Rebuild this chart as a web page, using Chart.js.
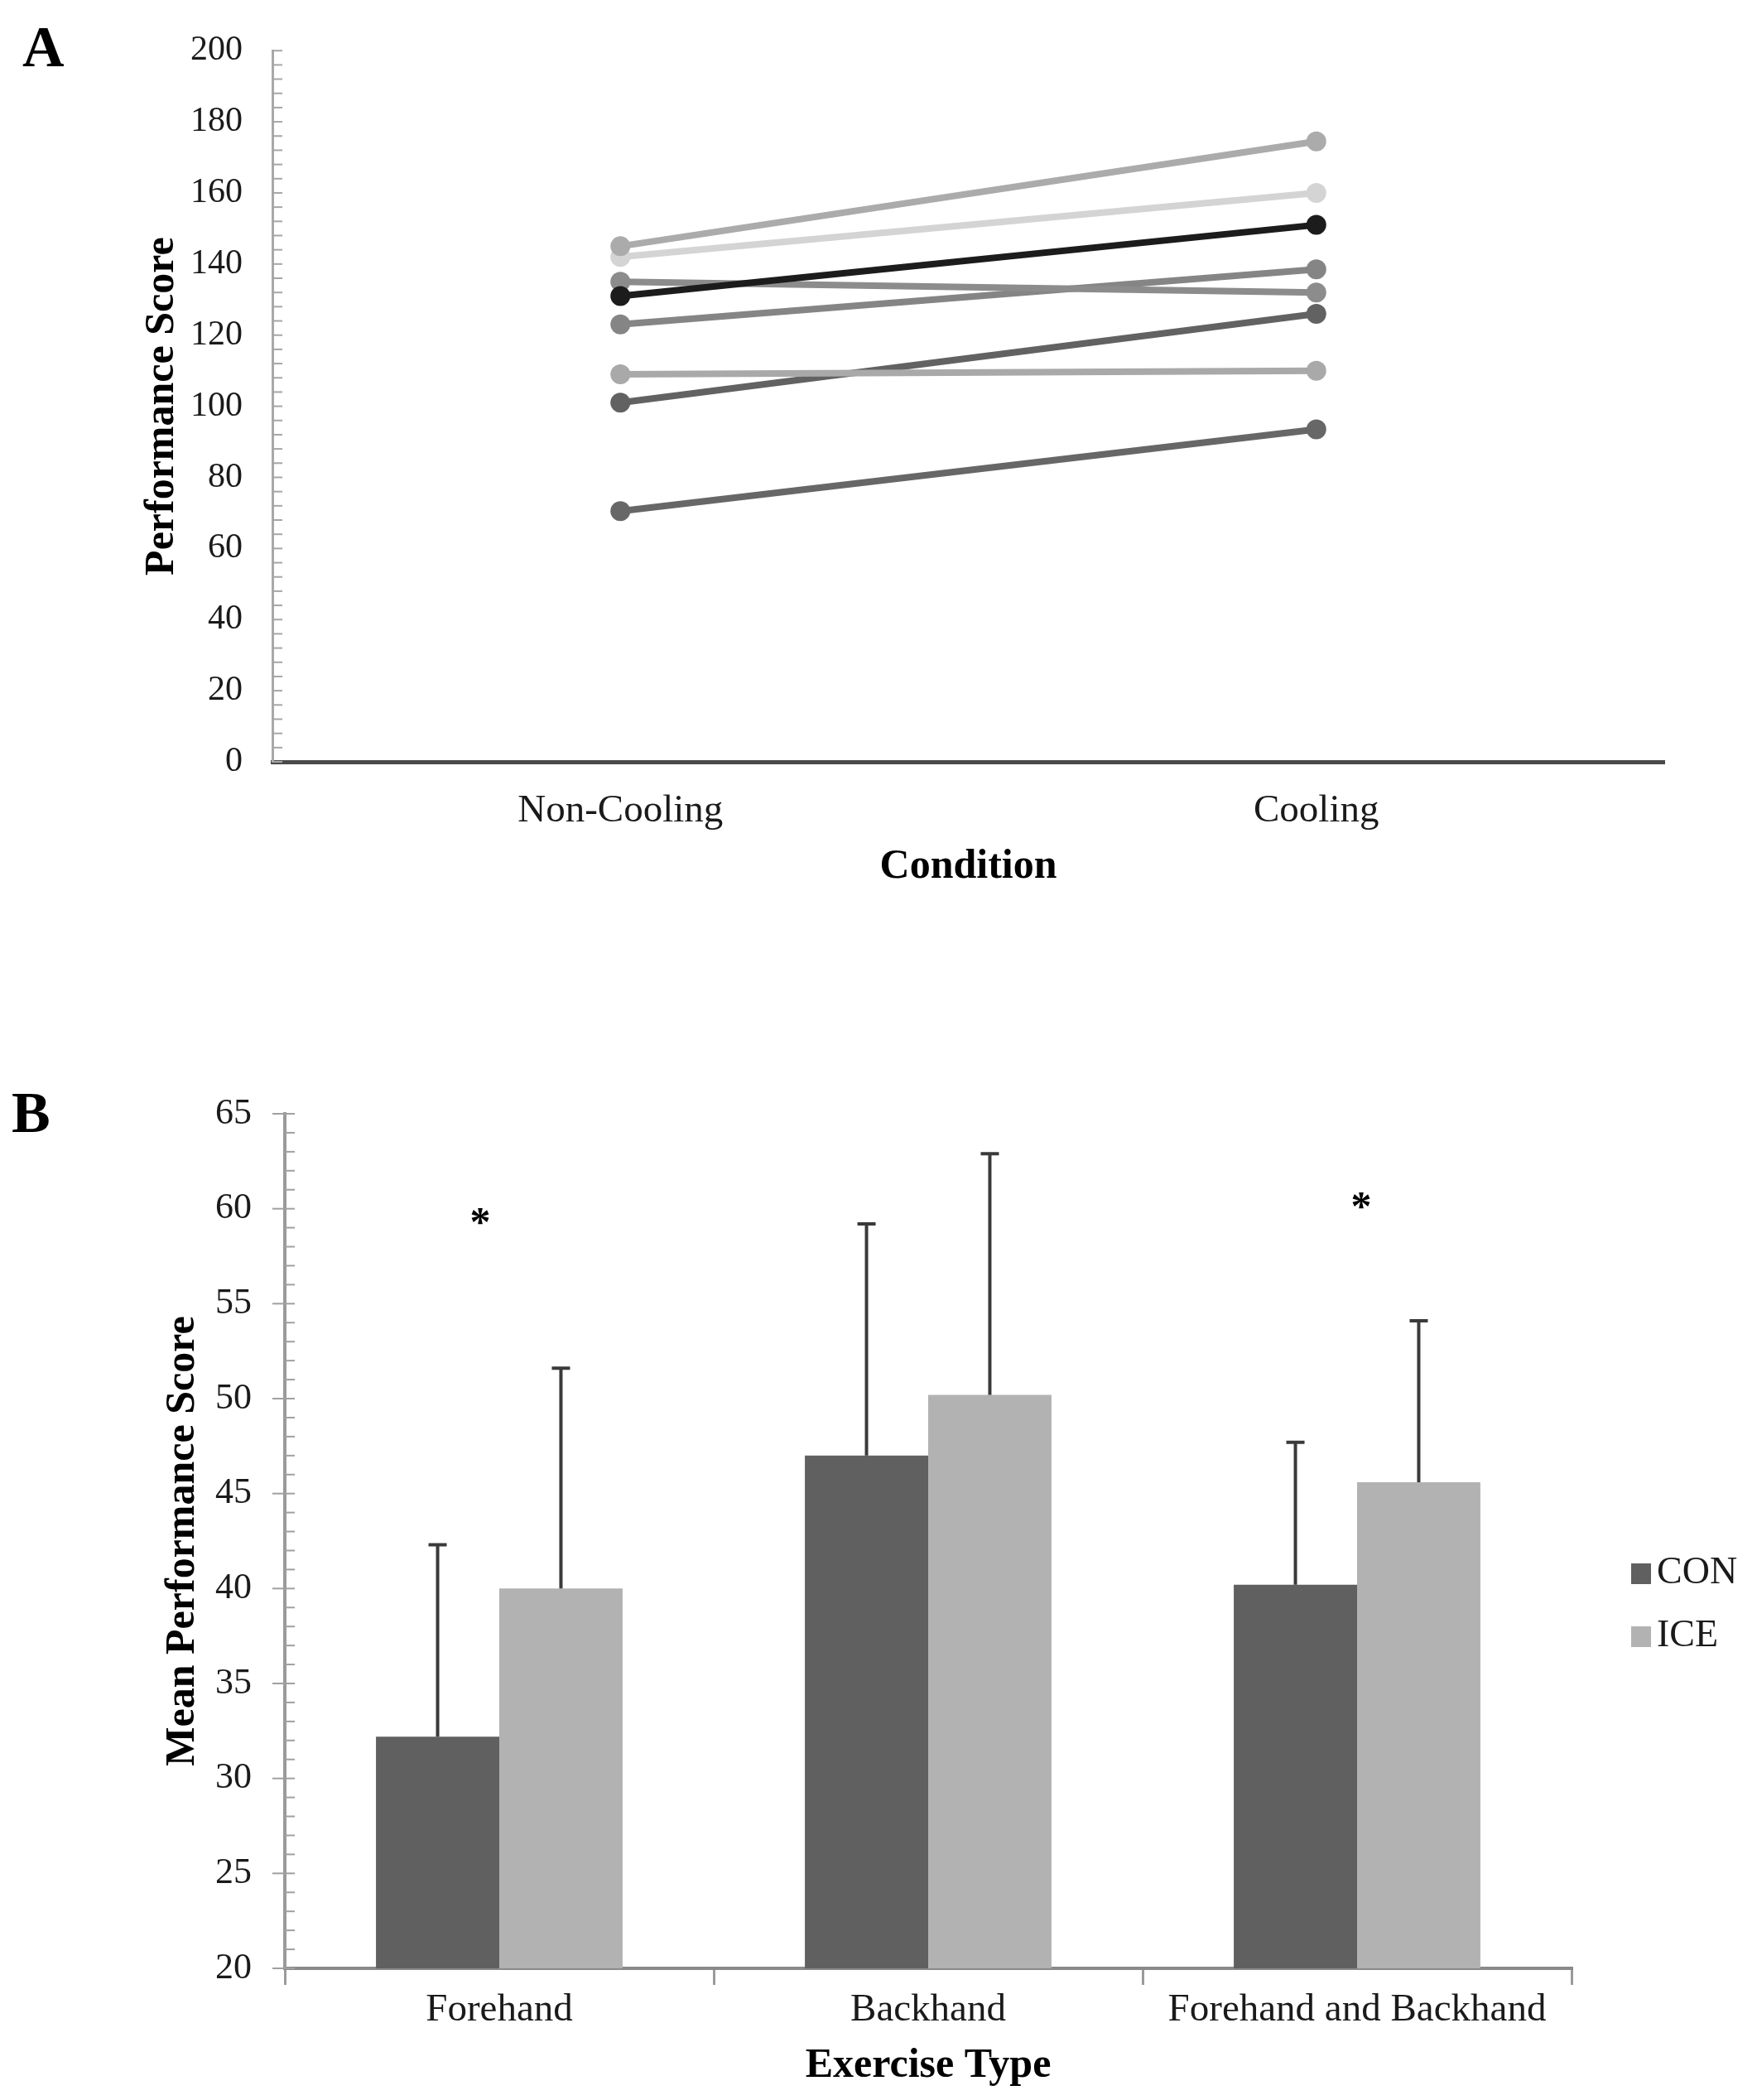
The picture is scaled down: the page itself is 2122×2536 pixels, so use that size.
<!DOCTYPE html>
<html>
<head>
<meta charset="utf-8">
<script src="https://cdn.jsdelivr.net/npm/chart.js@4.4.1/dist/chart.umd.min.js"></script>
<style>
  html, body { margin: 0; padding: 0; background: #fff; }
  body { width: 2122px; height: 2536px; position: relative; overflow: hidden; }
  .panel { position: absolute; left: 0; }
  .tag { position: absolute; font: bold 70px 'Liberation Serif', serif; line-height: 70px; color: #000; }
</style>
</head>
<body>
<div class="tag" style="left:27px; top:22px;">A</div>
<div class="tag" style="left:14px; top:1309px;">B</div>
<canvas id="chartA" class="panel" width="2122" height="1120" style="top:0;"></canvas>
<canvas id="chartB" class="panel" width="2122" height="1306" style="top:1230px;"></canvas>
<script>
// ---- Panel A: individual performance scores ----
const conditions = ['Non-Cooling', 'Cooling'];
const player1 = [145, 174.5];
const player2 = [142, 160];
const player3 = [131, 151];
const player4 = [135, 132];
const player5 = [123, 138.5];
const player6 = [109, 110];
const player7 = [101, 126];
const player8 = [70.5, 93.5];
const yTicksA = [0, 20, 40, 60, 80, 100, 120, 140, 160, 180, 200];

// ---- Panel B: mean performance score ----
const exerciseTypes = ['Forehand', 'Backhand', 'Forehand and Backhand'];
const conMeans = [32.2, 47.0, 40.2];
const iceMeans = [40.0, 50.2, 45.6];
const conSD = [10.1, 12.2, 7.5];
const iceSD = [11.6, 12.7, 8.5];
const sigTypes = ['Forehand', 'Forehand and Backhand'];
const sigHeights = [59.6, 60.4];
const yTicksB = [20, 25, 30, 35, 40, 45, 50, 55, 60, 65];

const serif = "'Liberation Serif', 'Times New Roman', serif";

// small tick marks along the value axis
const axisMarks = {
  id: 'axisMarks',
  afterDraw(chart, args, opts) {
    const y = chart.scales.y, ctx = chart.ctx;
    const x0 = chart.chartArea.left;
    ctx.save();
    ctx.strokeStyle = opts.color;
    ctx.lineWidth = 2;
    for (let v = y.min; v <= y.max + 1e-6; v += opts.minorStep) {
      const py = y.getPixelForValue(v);
      const r = v / opts.majorStep;
      const major = Math.abs(r - Math.round(r)) < 1e-6;
      ctx.beginPath();
      ctx.moveTo(x0 - (major ? opts.outer : 0), py);
      ctx.lineTo(x0 + opts.inner, py);
      ctx.stroke();
    }
    ctx.restore();
  }
};

const lineColors = ['#ababab', '#d4d4d4', '#1c1c1c', '#8c8c8c', '#858585', '#a9a9a9', '#626262', '#676767'];
const players = [player3, player1, player2, player4, player5, player6, player7, player8];
const playerColors = [lineColors[2], lineColors[0], lineColors[1], lineColors[3], lineColors[4], lineColors[5], lineColors[6], lineColors[7]];

new Chart(document.getElementById('chartA'), {
  type: 'line',
  data: {
    labels: conditions,
    datasets: players.map((p, i) => ({
      label: 'Player ' + (i + 1),
      data: p,
      borderColor: playerColors[i],
      backgroundColor: playerColors[i],
      borderWidth: 8,
      pointRadius: 12,
      pointBorderWidth: 0,
      pointBackgroundColor: playerColors[i],
      tension: 0
    }))
  },
  options: {
    responsive: false,
    animation: false,
    devicePixelRatio: 1,
    layout: { padding: { left: 0, top: 57, right: 2122 - 2010, bottom: 0 } },
    plugins: {
      legend: { display: false },
      tooltip: { enabled: false },
      axisMarks: { minorStep: 4, majorStep: 20, inner: 12, outer: 0, color: '#a6a6a6' }
    },
    scales: {
      x: {
        offset: true,
        grid: { display: false, drawTicks: false },
        border: { color: '#4a4a4a', width: 5 },
        ticks: { font: { family: serif, size: 47 }, color: '#1a1a1a', padding: 31 },
        title: { display: true, text: 'Condition', font: { family: serif, size: 50, weight: 'bold' }, color: '#000', padding: { top: 0, bottom: 43 } },
        afterFit: s => { s.height = 1120 - 920; }
      },
      y: {
        min: 0, max: 200,
        afterBuildTicks: s => { s.ticks = yTicksA.map(v => ({ value: v })); },
        grid: { display: false, drawTicks: false },
        border: { color: '#a8a8a8', width: 3 },
        ticks: { font: { family: serif, size: 42 }, color: '#1a1a1a', padding: 36 },
        title: { display: true, text: 'Performance Score', font: { family: serif, size: 50, weight: 'bold' }, color: '#000', padding: { top: 166, bottom: 0 } },
        afterFit: s => { s.width = 329; }
      }
    }
  },
  plugins: [axisMarks]
});

// upward standard deviation bars
const errorBars = {
  id: 'errorBars',
  afterDatasetsDraw(chart) {
    const ctx = chart.ctx, ys = chart.scales.y;
    ctx.save();
    ctx.strokeStyle = '#3a3a3a';
    ctx.lineWidth = 4;
    chart.data.datasets.forEach((ds, i) => {
      chart.getDatasetMeta(i).data.forEach((bar, j) => {
        const top = ys.getPixelForValue(ds.data[j] + ds.sd[j]);
        ctx.beginPath();
        ctx.moveTo(bar.x, bar.y);
        ctx.lineTo(bar.x, top);
        ctx.moveTo(bar.x - 11, top);
        ctx.lineTo(bar.x + 11, top);
        ctx.stroke();
      });
    });
    ctx.restore();
  }
};

// significance asterisks and legend
const annotations = {
  id: 'annotations',
  afterDraw(chart) {
    const ctx = chart.ctx, xs = chart.scales.x, ys = chart.scales.y;
    const shift = [-23, 5];
    ctx.save();
    ctx.fillStyle = '#000';
    ctx.font = 'bold 50px ' + serif;
    ctx.textAlign = 'center';
    ctx.textBaseline = 'alphabetic';
    sigTypes.forEach((t, i) => {
      const m = ctx.measureText('*');
      const cx = xs.getPixelForValue(exerciseTypes.indexOf(t)) + shift[i];
      const cy = ys.getPixelForValue(sigHeights[i]);
      ctx.fillText('*', cx, cy + (m.actualBoundingBoxAscent - m.actualBoundingBoxDescent) / 2);
    });
    // legend
    ctx.font = '46px ' + serif;
    ctx.textAlign = 'left';
    ctx.textBaseline = 'middle';
    chart.data.datasets.forEach((ds, i) => {
      const cy = 1900 - 1230 + i * 76;
      ctx.fillStyle = ds.backgroundColor;
      ctx.fillRect(1970, cy - 12, 24, 25);
      ctx.fillStyle = '#1a1a1a';
      ctx.fillText(ds.label, 2001, cy);
    });
    ctx.restore();
  }
};

new Chart(document.getElementById('chartB'), {
  type: 'bar',
  data: {
    labels: exerciseTypes,
    datasets: [
      { label: 'CON', data: conMeans, sd: conSD, backgroundColor: '#606060', borderWidth: 0 },
      { label: 'ICE', data: iceMeans, sd: iceSD, backgroundColor: '#b2b2b2', borderWidth: 0 }
    ]
  },
  options: {
    responsive: false,
    animation: false,
    devicePixelRatio: 1,
    categoryPercentage: 0.575,
    barPercentage: 1,
    layout: { padding: { left: 0, top: 1345 - 1230, right: 2122 - 1898, bottom: 0 } },
    plugins: {
      legend: { display: false },
      tooltip: { enabled: false },
      axisMarks: { minorStep: 1, majorStep: 5, inner: 12, outer: 15, color: '#a0a0a0' }
    },
    scales: {
      x: {
        grid: { display: true, drawOnChartArea: false, drawTicks: true, tickLength: 20, color: '#9a9a9a', lineWidth: 3, offset: true },
        border: { color: '#8a8a8a', width: 4 },
        ticks: { font: { family: serif, size: 47 }, color: '#1a1a1a', padding: 2 },
        title: { display: true, text: 'Exercise Type', font: { family: serif, size: 50, weight: 'bold' }, color: '#000', padding: { top: 0, bottom: 11 } },
        afterFit: s => { s.height = 1306 - (2377 - 1230); }
      },
      y: {
        min: 20, max: 65,
        afterBuildTicks: s => { s.ticks = yTicksB.map(v => ({ value: v })); },
        grid: { display: false, drawTicks: false },
        border: { color: '#9a9a9a', width: 4 },
        ticks: { font: { family: serif, size: 44 }, color: '#1a1a1a', padding: 40 },
        title: { display: true, text: 'Mean Performance Score', font: { family: serif, size: 50, weight: 'bold' }, color: '#000', padding: { top: 191, bottom: 0 } },
        afterFit: s => { s.width = 344; }
      }
    }
  },
  plugins: [axisMarks, errorBars, annotations]
});
</script>
</body>
</html>
